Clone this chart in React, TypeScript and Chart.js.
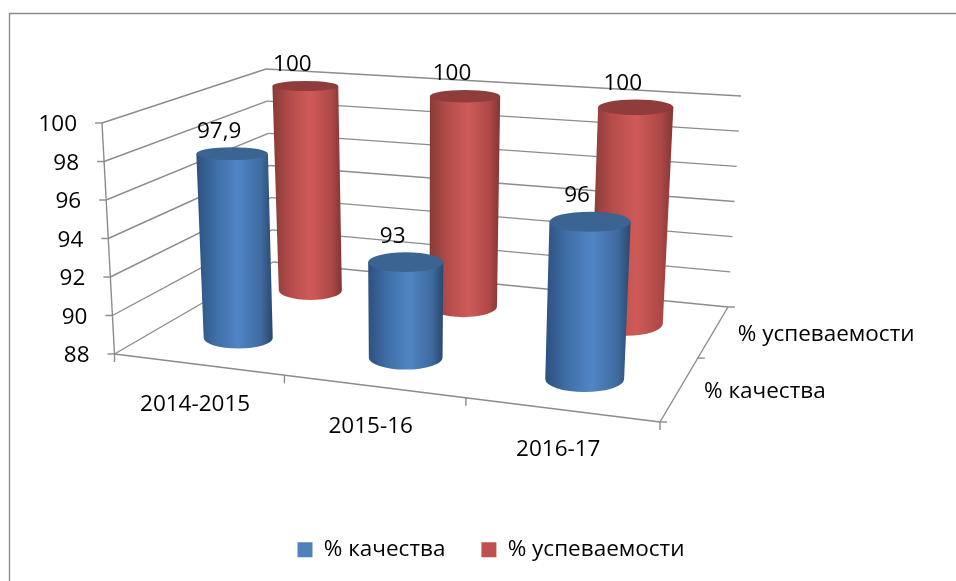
import React, { useEffect, useRef } from "react";
import { Chart, registerables } from "chart.js";

Chart.register(...registerables);

const categories = ["2014-2015", "2015-16", "2016-17"];
const seriesNames = ["% качества", "% успеваемости"];
const quality = [97.9, 93, 96];
const success = [100, 100, 100];
const yMin = 88;
const yMax = 100;
const yStep = 2;

const FONT = '"Open Sans", "Noto Sans", sans-serif';
const FS = 22.5;
const LINE = "#8c8c8c";

// projected corners of the 3D box: front/back, bottom/top, left/right
const box = {
  fbl: [114.5, 354], fbr: [660, 422], ftl: [102, 123], ftr: [672, 172],
  bbl: [273, 262], bbr: [728, 307], btl: [266, 69], btr: [741, 96],
};
const lerp = (a: number[], b: number[], t: number) => [a[0] + (b[0] - a[0]) * t, a[1] + (b[1] - a[1]) * t];
const persp = (t: number, a: number) => t / (a + (1 - a) * t);
const foreU = (u: number) => persp(u, 1.105);
const foreW = (w: number) => persp(w, 0.8);

function project(u: number, v: number, w: number) {
  const U = foreU(u);
  const W = foreW(w);
  const fb = lerp(box.fbl, box.fbr, U);
  const ft = lerp(box.ftl, box.ftr, U);
  const bb = lerp(box.bbl, box.bbr, U);
  const bt = lerp(box.btl, box.btr, U);
  return lerp(lerp(fb, ft, v), lerp(bb, bt, v), W);
}

const palettes = [
  { stops: ["#2d5080", "#3f6ea6", "#5085c5", "#3f6a9e", "#2a486e"], top: "#3c6492" },
  { stops: ["#873a38", "#b34c4a", "#cf5b58", "#ad4846", "#823534"], top: "#8f3c3a" },
];
const stopAt = [0, 0.25, 0.55, 0.85, 1];

function line(ctx: CanvasRenderingContext2D, a: number[], b: number[]) {
  ctx.beginPath();
  ctx.moveTo(a[0], a[1]);
  ctx.lineTo(b[0], b[1]);
  ctx.stroke();
}

function flatness(u: number, v: number) {
  return 0.3 + 0.04 * u - v * (0.16 - 0.04 * u);
}

const scene3d = {
  id: "scene3d",
  beforeDatasetDraw: () => false,
  afterDatasetsDraw(chart: any) {
    const ctx: CanvasRenderingContext2D = chart.ctx;
    const xs = chart.scales.x;
    const ys = chart.scales.y;
    const nu = categories.length;
    const nw = chart.data.datasets.length;
    const uOf = (i: number) => (xs.getPixelForValue(i) - xs.left) / xs.width;
    const vOf = (val: number) => (ys.bottom - ys.getPixelForValue(val)) / ys.height;
    const wOf = (j: number) => (j + 0.47) / nw;

    ctx.save();
    ctx.strokeStyle = LINE;
    ctx.lineWidth = 1.4;
    // chart frame
    ctx.beginPath();
    ctx.moveTo(9.5, 581);
    ctx.lineTo(9.5, 13.5);
    ctx.lineTo(956, 13.5);
    ctx.stroke();

    // walls
    ctx.fillStyle = "#000";
    ctx.font = `${FS}px ${FONT}`;
    ctx.textBaseline = "middle";
    ys.ticks.forEach((t: any) => {
      const v = vOf(t.value);
      const a = project(0, v, 0);
      const b = project(0, v, 1);
      const c = project(1, v, 1);
      line(ctx, a, b);
      line(ctx, b, c);
      line(ctx, a, [a[0] - 7, a[1]]);
      ctx.textAlign = "right";
      ctx.fillText(String(t.value), a[0] - 25, a[1] + 2);
    });
    line(ctx, project(0, 0, 0), project(0, 1, 0));
    // floor edges
    line(ctx, project(0, 0, 0), project(1, 0, 0));
    line(ctx, project(1, 0, 0), project(1, 0, 1));
    for (let k = 0; k <= nu; k++) {
      const p = project(k / nu, 0, 0);
      line(ctx, p, [p[0], p[1] + 8]);
    }
    for (let k = 0; k <= nw; k++) {
      const p = project(1, 0, k / nw);
      line(ctx, p, [p[0] + 7, p[1]]);
    }

    // cylinders, back to front
    const labels: { text: string; x: number; y: number }[] = [];
    for (let j = nw - 1; j >= 0; j--) {
      const values = chart.data.datasets[j].data as number[];
      const pal = palettes[j];
      const w = wOf(j);
      for (let i = 0; i < nu; i++) {
        const u = uOf(i);
        const val = values[i];
        const v = vOf(val);
        const bot = project(u, 0, w);
        const top = project(u, v, w);
        const half = 0.071;
        const rb = (project(u + half, 0, w)[0] - project(u - half, 0, w)[0]) / 2;
        const rt = (project(u + half, v, w)[0] - project(u - half, v, w)[0]) / 2;
        const hb = rb * flatness(u, 0);
        const ht = rt * flatness(u, v);
        const g = ctx.createLinearGradient(Math.min(top[0] - rt, bot[0] - rb), 0, Math.max(top[0] + rt, bot[0] + rb), 0);
        pal.stops.forEach((c, n) => g.addColorStop(stopAt[n], c));
        ctx.fillStyle = g;
        ctx.beginPath();
        ctx.moveTo(top[0] - rt, top[1]);
        ctx.lineTo(bot[0] - rb, bot[1]);
        ctx.ellipse(bot[0], bot[1], rb, hb, 0, Math.PI, 0, true);
        ctx.lineTo(top[0] + rt, top[1]);
        ctx.closePath();
        ctx.fill();
        ctx.fillStyle = pal.top;
        ctx.beginPath();
        ctx.ellipse(top[0], top[1], rt, ht, 0, 0, Math.PI * 2);
        ctx.fill();
        labels.push({ text: String(val).replace(".", ","), x: top[0] - 13, y: top[1] - ht - 16 });
      }
    }

    // data labels
    ctx.fillStyle = "#000";
    ctx.textAlign = "center";
    labels.forEach((l) => ctx.fillText(l.text, l.x, l.y));

    // category labels
    categories.forEach((c, i) => {
      const p = project(uOf(i), 0, 0);
      ctx.fillText(c, p[0] - 3, p[1] + 40);
    });
    // depth labels
    ctx.textAlign = "left";
    seriesNames.forEach((s, j) => {
      const p = project(1, 0, (j + 0.5) / nw);
      ctx.fillText(s, p[0] + 24, p[1] + 3);
    });
    ctx.restore();
  },
};

export default function App() {
  const ref = useRef<HTMLCanvasElement>(null);
  useEffect(() => {
    const chart = new Chart(ref.current!, {
      type: "bar",
      data: {
        labels: categories,
        datasets: [
          { label: seriesNames[0], data: quality, backgroundColor: "#4f81bd" },
          { label: seriesNames[1], data: success, backgroundColor: "#c0504d" },
        ],
      },
      options: {
        animation: false,
        responsive: false,
        layout: { padding: { left: 100, right: 74, top: 100, bottom: 10 } },
        scales: {
          x: { display: false },
          y: { display: false, min: yMin, max: yMax, ticks: { stepSize: yStep } },
        },
        plugins: {
          tooltip: { enabled: false },
          legend: {
            position: "bottom",
            labels: {
              boxWidth: 15,
              boxHeight: 15,
              padding: 36,
              color: "#000",
              font: { family: FONT, size: FS },
            },
          },
        },
      },
      plugins: [scene3d],
    });
    return () => chart.destroy();
  }, []);
  return (
    <canvas
      ref={ref}
      width={956}
      height={581}
      style={{ position: "absolute", left: 0, top: 0, display: "block" }}
    />
  );
}
